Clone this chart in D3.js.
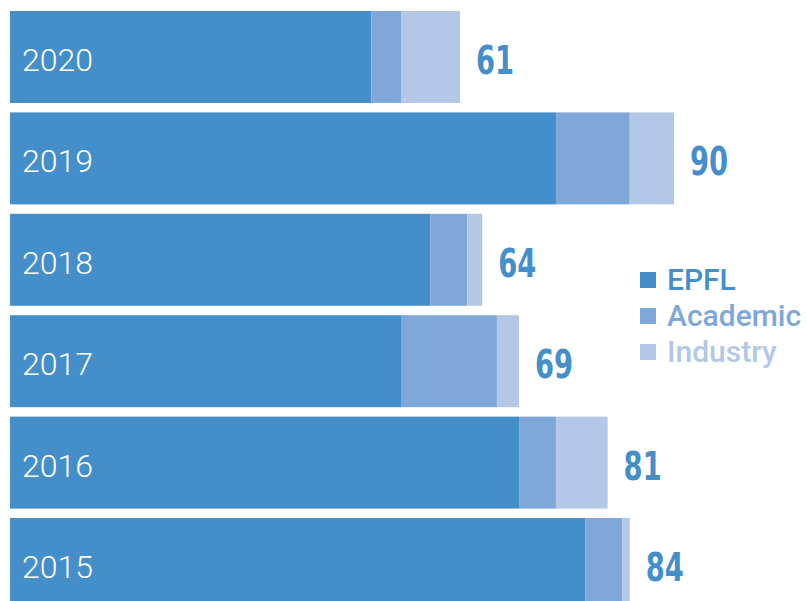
<!DOCTYPE html>
<html>
<head>
<meta charset="utf-8">
<script src="https://cdn.jsdelivr.net/npm/d3@7"></script>
<style>
  body { margin: 0; background: #fff; }
  svg { display: block; }
</style>
</head>
<body>
<script>
  var years = ['2020', '2019', '2018', '2017', '2016', '2015'],
      epfl = [49, 74, 57, 53, 69, 78],
      academic = [4, 10, 5, 13, 5, 5],
      industry = [8, 6, 2, 3, 7, 1],
      seriesNames = ['EPFL', 'Academic', 'Industry'],
      colors = ['#448eca', '#7fa8d8', '#b3c8e6'];

  var W = 806, H = 601;

  var rows = years.map(function (y, i) {
    return {year: y, EPFL: epfl[i], Academic: academic[i], Industry: industry[i]};
  });

  var stack = d3.stack().keys(seriesNames)(rows);

  var x = d3.scaleLinear().domain([0, 90]).range([10, 674]),
      y = d3.scaleBand().domain(years).range([11, 610]).paddingInner(0.093).paddingOuter(0),
      color = d3.scaleOrdinal().domain(seriesNames).range(colors);

  var svg = d3.select('body')
    .append('svg')
    .attr('width', W)
    .attr('height', H);

  // stacked bars
  svg.append('g')
    .selectAll('g')
    .data(stack)
    .enter()
    .append('g')
    .attr('fill', function (d) { return color(d.key); })
    .selectAll('rect')
    .data(function (d) { return d; })
    .enter()
    .append('rect')
    .attr('x', function (d) { return x(d[0]); })
    .attr('y', function (d) { return y(d.data.year); })
    .attr('width', function (d) { return x(d[1]) - x(d[0]); })
    .attr('height', y.bandwidth());

  // year labels inside bars
  svg.append('g')
    .selectAll('text')
    .data(rows)
    .enter()
    .append('text')
    .attr('x', 22)
    .attr('y', function (d) { return y(d.year) + y.bandwidth() / 2 + 14; })
    .attr('fill', '#fff')
    .style('font-family', 'Roboto, sans-serif')
    .style('font-weight', 300)
    .style('font-size', '32px')
    .text(function (d) { return d.year; });

  // totals (condensed look: squeeze horizontally)
  var last = stack[stack.length - 1];
  svg.append('g')
    .selectAll('text')
    .data(last)
    .enter()
    .append('text')
    .attr('transform', function (d) {
      return 'translate(' + (x(d[1]) + 16) + ',' + (y(d.data.year) + y.bandwidth() / 2 + 17) + ') scale(0.78,1)';
    })
    .attr('fill', colors[0])
    .style('font-family', '"DejaVu Sans Condensed", "DejaVu Sans", sans-serif')
    .style('font-weight', 'bold')
    .style('font-size', '39px')
    .text(function (d) { return d[1]; });

  // legend
  var legend = svg.append('g')
    .attr('transform', 'translate(640,272)')
    .selectAll('g')
    .data(seriesNames)
    .enter()
    .append('g')
    .attr('transform', function (d, i) { return 'translate(0,' + i * 36 + ')'; });

  legend.append('rect')
    .attr('width', 16)
    .attr('height', 16)
    .attr('fill', function (d) { return color(d); });

  legend.append('text')
    .attr('x', 27)
    .attr('y', 18)
    .attr('fill', function (d) { return color(d); })
    .style('font-family', 'Roboto, sans-serif')
    .style('font-weight', 500)
    .style('font-size', '30px')
    .text(function (d) { return d; });
</script>
</body>
</html>
